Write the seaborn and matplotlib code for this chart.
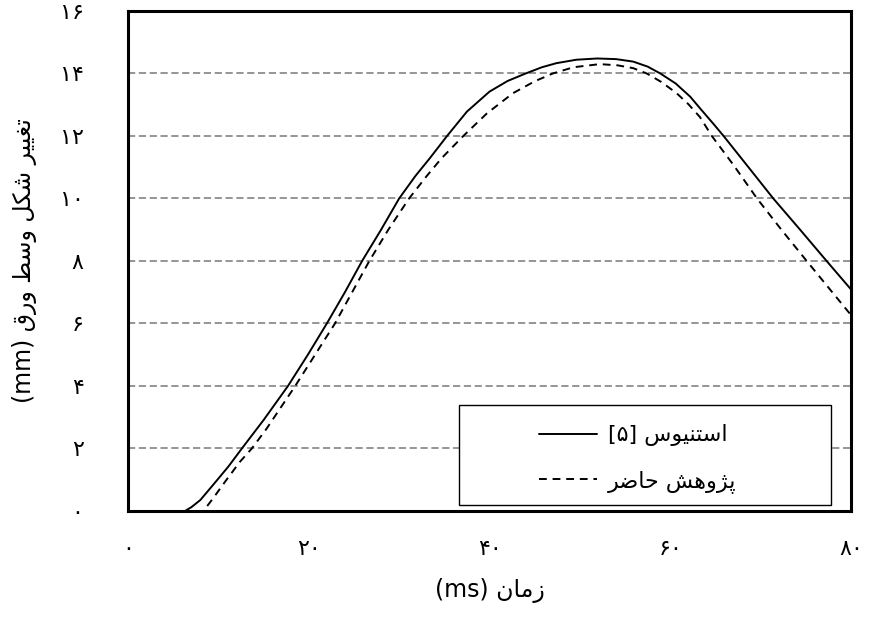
"""
plot.py
Mid-sheet deformation vs. time: Stenius [5] vs. present study.
Saves the figure to out.png.
"""

import matplotlib.pyplot as plt
from matplotlib.patches import Rectangle
import seaborn as sns

# Data
# time (ms) / deformation (mm)
stenius_t = [0, 2, 4, 5.5, 6.3, 7.0, 8.0, 9.4, 11.1, 12.6, 15.0, 17.7, 19.9, 22.0,
             24.0, 25.9, 28.0, 30.0, 31.8, 33.4, 35.3, 37.5, 40.0, 42.0, 44.0,
             45.8, 47.4, 49.6, 51.9, 54.0, 55.9, 57.5, 58.9, 60.6, 62.2, 63.4,
             64.8, 65.9, 68.6, 71.4, 74.4, 77.3, 80.0]
stenius_d = [0, 0, -0.05, -0.03, 0.0, 0.12, 0.35, 0.83, 1.42, 2.0, 2.91, 4.0, 5.0, 6.0,
             7.0, 8.0, 9.0, 10.0, 10.72, 11.29, 12.0, 12.78, 13.42, 13.76, 14.0,
             14.2, 14.33, 14.44, 14.48, 14.46, 14.38, 14.22, 14.0, 13.68, 13.26, 12.85,
             12.38, 12.0, 11.02, 10.0, 8.99, 8.0, 7.09]

present_t = [0, 8.34, 9.4, 10.9, 12.4, 13.7, 15.3, 18.5, 20.7, 22.9, 24.8, 26.7,
             28.8, 31.1, 33.0, 34.7, 37.1, 39.7, 42.6, 45.0, 47.0, 49.3, 52.2,
             54.2, 55.9, 57.4, 59.0, 60.7, 62.0, 63.3, 64.6, 67.0, 69.6, 72.3,
             75.1, 77.7, 80.0]
present_d = [0, 0, 0.4, 1.0, 1.58, 2.0, 2.62, 4.0, 5.0, 6.0, 7.0, 8.0,
             9.0, 10.0, 10.7, 11.29, 12.0, 12.72, 13.37, 13.75, 14.0, 14.2, 14.3,
             14.26, 14.17, 14.0, 13.73, 13.37, 13.02, 12.6, 12.0, 11.07, 10.0, 9.0,
             8.0, 7.08, 6.27]

x_ticks = [0, 20, 40, 60, 80]
y_ticks = [0, 2, 4, 6, 8, 10, 12, 14, 16]

label_stenius = "استنیوس"
label_present = "پژوهش حاضر"
xlabel_fa = "زمان"
ylabel_fa = "تغییر شکل وسط ورق"

# matplotlib has no Arabic shaping, so map letters to presentation forms
# (isolated, final, initial, medial) and reverse for display
FORMS = {
    "ا": ("\uFE8D", "\uFE8E", None, None),
    "ت": ("\uFE95", "\uFE96", "\uFE97", "\uFE98"),
    "س": ("\uFEB1", "\uFEB2", "\uFEB3", "\uFEB4"),
    "ن": ("\uFEE5", "\uFEE6", "\uFEE7", "\uFEE8"),
    "\u06cc": ("\uFBFC", "\uFBFD", "\uFBFE", "\uFBFF"),
    "و": ("\uFEED", "\uFEEE", None, None),
    "پ": ("\uFB56", "\uFB57", "\uFB58", "\uFB59"),
    "ژ": ("\uFB8A", "\uFB8B", None, None),
    "ه": ("\uFEE9", "\uFEEA", "\uFEEB", "\uFEEC"),
    "ش": ("\uFEB5", "\uFEB6", "\uFEB7", "\uFEB8"),
    "ح": ("\uFEA1", "\uFEA2", "\uFEA3", "\uFEA4"),
    "ض": ("\uFEBD", "\uFEBE", "\uFEBF", "\uFEC0"),
    "ر": ("\uFEAD", "\uFEAE", None, None),
    "غ": ("\uFECD", "\uFECE", "\uFECF", "\uFED0"),
    "\u06a9": ("\uFB8E", "\uFB8F", "\uFB90", "\uFB91"),
    "ل": ("\uFEDD", "\uFEDE", "\uFEDF", "\uFEE0"),
    "ط": ("\uFEC1", "\uFEC2", "\uFEC3", "\uFEC4"),
    "ق": ("\uFED5", "\uFED6", "\uFED7", "\uFED8"),
    "ز": ("\uFEAF", "\uFEB0", None, None),
    "م": ("\uFEE1", "\uFEE2", "\uFEE3", "\uFEE4"),
}


def rtl(text):
    text = text.replace("\u064a", "\u06cc").replace("\u0643", "\u06a9")
    out = []
    for i, ch in enumerate(text):
        f = FORMS.get(ch)
        if f is None:
            out.append(ch)
            continue
        prev = text[i - 1] if i > 0 else ""
        nxt = text[i + 1] if i + 1 < len(text) else ""
        join_prev = prev in FORMS and FORMS[prev][2] is not None
        join_next = f[2] is not None and nxt in FORMS
        if join_prev and join_next:
            out.append(f[3])
        elif join_prev:
            out.append(f[1])
        elif join_next:
            out.append(f[2])
        else:
            out.append(f[0])
    return "".join(reversed(out))


def fa_num(n):
    return str(n).translate(str.maketrans("0123456789", "۰۱۲۳۴۵۶۷۸۹"))


sns.set_style("white")
plt.rcParams["font.family"] = ["DejaVu Sans"]
plt.rcParams["text.color"] = "black"
plt.rcParams["axes.labelcolor"] = "black"
plt.rcParams["xtick.color"] = "black"
plt.rcParams["ytick.color"] = "black"

fig = plt.figure(figsize=(8.69, 6.17), dpi=100)
ax = fig.add_axes([0.1473, 0.1718, 0.832, 0.8104])

sns.lineplot(x=stenius_t, y=stenius_d, ax=ax, color="black", linewidth=1.4,
             label="[" + fa_num(5) + "] " + rtl(label_stenius))
sns.lineplot(x=present_t, y=present_d, ax=ax, color="black", linewidth=1.4,
             linestyle=(0, (4, 3)), label=rtl(label_present))

ax.set_xlim(0, 80)
ax.set_ylim(0, 16)
ax.set_xticks(x_ticks)
ax.set_yticks(y_ticks)
ax.set_xticklabels([fa_num(v) for v in x_ticks], fontsize=16)
ax.set_yticklabels([fa_num(v) for v in y_ticks], fontsize=16)
ax.tick_params(axis="x", direction="out", length=6, width=1.2, pad=14)
ax.tick_params(axis="y", direction="out", length=6, width=1.2, pad=26)

ax.yaxis.grid(True, linestyle=(0, (4, 2)), color="#8c8c8c", linewidth=1.3)
ax.xaxis.grid(False)
ax.set_axisbelow(True)

for s in ax.spines.values():
    s.set_color("black")
    s.set_linewidth(2.2)

ax.set_xlabel("(ms) " + rtl(xlabel_fa), fontsize=17, labelpad=14)
ax.set_ylabel("(mm) " + rtl(ylabel_fa), fontsize=17, labelpad=16)

# legend box
ax.add_patch(Rectangle((0.458, 0.012), 0.514, 0.2, transform=ax.transAxes,
                       facecolor="white", edgecolor="black", linewidth=1.0, zorder=4))
leg = ax.legend(loc="center", bbox_to_anchor=(0.705, 0.105), frameon=False,
                fontsize=16, handlelength=2.6, labelspacing=1.05, handletextpad=0.5)
leg.set_zorder(5)

fig.savefig("out.png", dpi=100)
print("saved out.png")
